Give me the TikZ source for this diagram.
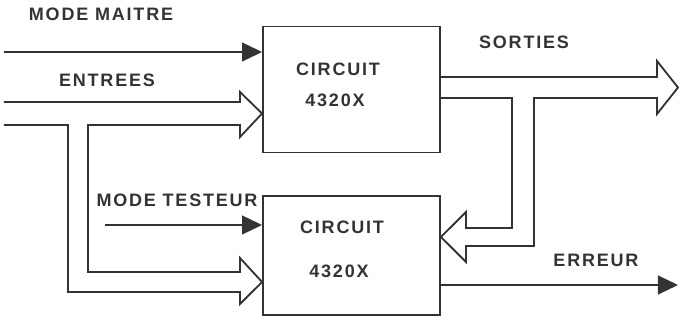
\documentclass[tikz,border=0pt]{standalone}
\usepackage{fontspec}
\setmainfont{Liberation Sans}
\newfontfamily\lblfont[LetterSpace=10]{Liberation Sans}
\usetikzlibrary{arrows.meta, calc}

\begin{document}
\begin{tikzpicture}[
  x=0.025cm, y=-0.025cm,
  every node/.style={font=\fontsize{12.8}{14}\lblfont\bfseries, text=black!80},
  box/.style={draw=black!80, line width=1.3pt, minimum width=4.425cm,
              minimum height=3.15cm, inner sep=0pt},
  bus/.style={draw=black!80, line width=1.3pt, line join=miter},
  sig/.style={draw=black!80, line width=1.3pt,
              -{Triangle[length=0.5cm, width=0.47cm]}},
]
\useasboundingbox (0,0) rectangle (680,320);

% --- circuits
\node[box] (c1) at (351.5,89.5) {};
\node[box, minimum height=2.975cm] (c2) at (351.5,255.5) {};
\node (c1a) at (338,69)  {CIRCUIT};
\node (c1b) at (335,100) {4320X};
\node (c2a) at (342,227) {CIRCUIT};
\node (c2b) at (339,271) {4320X};

% --- mode inputs
\node (mm) at (101,14)  {MODE MAITRE};
\node (mt) at (177,200) {MODE TESTEUR};
\coordinate (mmin) at (4,52);
\coordinate (mtin) at (105,225);
\draw[sig] (mmin) -- (mmin -| c1.west);
\draw[sig] (mtin) -- (mtin -| c2.west);

% --- input bus, split to both circuits
\node (ent) at (107,80) {ENTREES};
\coordinate (tip1) at ($(c1.west)+(0,24)$);
\coordinate (tip2) at ($(c2.west)+(0,26.5)$);
\draw[bus] (4,102) -- (240,102) -- (240,92) -- (tip1) -- (240,137)
  -- (240,125) -- (88,125) -- (88,272) -- (240,272) -- (240,258)
  -- (tip2) -- (240,304) -- (240,292) -- (68,292) -- (68,125) -- (4,125);

% --- output bus, fed back to the tester
\node (sor) at (524,42) {SORTIES};
\coordinate (tip3) at ($(c2.east)+(0,-18.5)$);
\draw[bus] (c1.east |- 0,77) -- (657,77) -- (657,61) -- (678,87.5)
  -- (657,114) -- (657,98) -- (534,98) -- (534,246) -- (466,246)
  -- (466,262) -- (tip3) -- (466,212) -- (466,228) -- (512,228)
  -- (512,98) -- (c1.east |- 0,98);

% --- error output
\node (err) at (596,260) {ERREUR};
\coordinate (errout) at (678,285);
\draw[sig] (errout -| c2.east) -- (errout);
\end{tikzpicture}
\end{document}
